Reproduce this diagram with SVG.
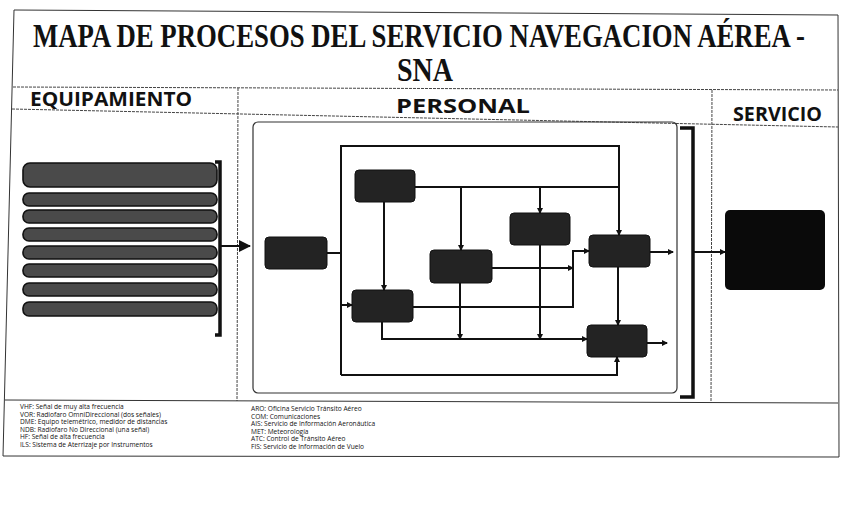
<svg xmlns="http://www.w3.org/2000/svg" width="843" height="506" viewBox="0 0 843 506">
<style>
.title{font-family:"Liberation Serif","Times New Roman",serif;font-weight:bold;font-size:24px;fill:#111}
.hdr{font-family:"Open Sans","Liberation Sans",sans-serif;font-weight:bold;font-size:20px;fill:#111}
.leg{font-family:"Open Sans","Liberation Sans",sans-serif;font-size:6.6px;fill:#111}
.rule{stroke:#333;stroke-width:1;fill:none}
.dash{stroke:#444;stroke-width:1;fill:none;stroke-dasharray:3 1}
.bar{fill:#4a4a4a;stroke:#111;stroke-width:1.6}
.node{fill:#232323;stroke:#111;stroke-width:1}
.c{stroke:#111;stroke-width:2;fill:none}
.br{stroke:#111;stroke-width:3.5;fill:none}
</style>
<defs>
<marker id="ah" markerWidth="6" markerHeight="6" refX="5" refY="3" orient="auto" markerUnits="userSpaceOnUse"><path d="M0,0 L6,3 L0,6 z" fill="#111"/></marker>
<marker id="big" markerWidth="12" markerHeight="12" refX="11" refY="6" orient="auto" markerUnits="userSpaceOnUse"><path d="M0,0 L12,6 L0,12 z" fill="#111"/></marker>
</defs>
<rect width="843" height="506" fill="#fff"/>
<polygon points="14,10 838,15 839,457 3,456" class="rule" stroke-width="1.3"/>
<text class="title" transform="translate(419,47) scale(1,1.38)" text-anchor="middle" textLength="772" lengthAdjust="spacingAndGlyphs">MAPA DE PROCESOS DEL SERVICIO NAVEGACION AÉREA -</text>
<text class="title" transform="translate(425,81) scale(1,1.38)" text-anchor="middle" textLength="56" lengthAdjust="spacingAndGlyphs">SNA</text>
<line class="dash" x1="13" y1="87" x2="838" y2="90"/>
<line class="dash" x1="12" y1="109" x2="838" y2="127"/>
<line class="dash" x1="238" y1="88" x2="237" y2="401"/>
<line class="dash" x1="712" y1="90" x2="711" y2="403"/>
<line class="rule" x1="5" y1="400" x2="838" y2="403"/>
<text class="hdr" x="30" y="106" textLength="162" lengthAdjust="spacingAndGlyphs">EQUIPAMIENTO</text>
<text class="hdr" x="396" y="113" textLength="134" lengthAdjust="spacingAndGlyphs">PERSONAL</text>
<text class="hdr" x="733" y="121" textLength="89" lengthAdjust="spacingAndGlyphs">SERVICIO</text>

<g id="equipamiento">
<rect class="bar" x="23" y="163" width="194" height="24" rx="7"/>
<rect class="bar" x="23" y="193" width="194" height="13" rx="6"/>
<rect class="bar" x="23" y="210" width="194" height="13" rx="6"/>
<rect class="bar" x="23" y="228" width="194" height="13" rx="6"/>
<rect class="bar" x="23" y="246" width="194" height="13" rx="6"/>
<rect class="bar" x="23" y="264" width="194" height="13" rx="6"/>
<rect class="bar" x="23" y="283" width="194" height="13" rx="6"/>
<rect class="bar" x="23" y="302" width="194" height="14" rx="6"/>
</g>

<rect id="personal-box" x="253" y="122" width="424" height="271" rx="5" fill="none" stroke="#333" stroke-width="1.2"/>

<g id="n-inicio"><rect class="node" x="265" y="237" width="62" height="32" rx="4"/></g>
<g id="n-a"><rect class="node" x="355" y="170" width="60" height="32" rx="4"/></g>
<g id="n-b"><rect class="node" x="510" y="213" width="60" height="32" rx="4"/></g>
<g id="n-c"><rect class="node" x="430" y="250" width="62" height="33" rx="4"/></g>
<g id="n-d"><rect class="node" x="589" y="235" width="61" height="32" rx="4"/></g>
<g id="n-e"><rect class="node" x="352" y="290" width="61" height="32" rx="4"/></g>
<g id="n-f"><rect class="node" x="587" y="325" width="60" height="32" rx="4"/></g>
<g id="servicio"><rect x="725" y="210" width="100" height="80" rx="5" fill="#0a0a0a"/></g>

<g id="connectors">
<path class="br" d="M215,162 H220 V335 H215"/>
<path class="c" d="M220,246 H250" stroke-width="2.5" marker-end="url(#big)"/>
<path class="c" d="M327,253 H341"/>
<path class="c" d="M341,145 V375"/>
<path class="c" d="M341,146 H619 V235" marker-end="url(#ah)"/>
<path class="c" d="M341,375 H617 V357" marker-end="url(#ah)"/>
<path class="c" d="M341,305 H352" marker-end="url(#ah)"/>
<path class="c" d="M415,187 H619"/>
<path class="c" d="M461,187 V250" marker-end="url(#ah)"/>
<path class="c" d="M540,187 V213" marker-end="url(#ah)"/>
<path class="c" d="M384,202 V290" marker-end="url(#ah)"/>
<path class="c" d="M492,268 H573" marker-end="url(#ah)"/>
<path class="c" d="M413,307 H573 V251 H589" marker-end="url(#ah)"/>
<path class="c" d="M382,322 V339 H587" marker-end="url(#ah)"/>
<path class="c" d="M460,283 V339" marker-end="url(#ah)"/>
<path class="c" d="M540,245 V339" marker-end="url(#ah)"/>
<path class="c" d="M618,267 V325" marker-end="url(#ah)"/>
<path class="c" d="M650,252 H673" marker-end="url(#ah)"/>
<path class="c" d="M647,343 H667" marker-end="url(#ah)"/>
<path class="br" d="M680,128 H693 V397 H680"/>
<path class="c" d="M693,252 H725" stroke-width="2.5" marker-end="url(#ah)"/>
</g>

<g id="legend">
<text class="leg" x="20" y="409">VHF: Señal de muy alta frecuencia</text>
<text class="leg" x="20" y="416.5">VOR: Radiofaro OmniDireccional (dos señales)</text>
<text class="leg" x="20" y="424">DME: Equipo telemétrico, medidor de distancias</text>
<text class="leg" x="20" y="431.5">NDB: Radiofaro No Direccional (una señal)</text>
<text class="leg" x="20" y="439">HF: Señal de alta frecuencia</text>
<text class="leg" x="20" y="446.5">ILS: Sistema de Aterrizaje por Instrumentos</text>
<text class="leg" x="251" y="411">ARO: Oficina Servicio Tránsito Aéreo</text>
<text class="leg" x="251" y="418.5">COM: Comunicaciones</text>
<text class="leg" x="251" y="426">AIS: Servicio de Información Aeronáutica</text>
<text class="leg" x="251" y="433.5">MET: Meteorología</text>
<text class="leg" x="251" y="441">ATC: Control de Tránsito Aéreo</text>
<text class="leg" x="251" y="448.5">FIS: Servicio de Información de Vuelo</text>
</g>
</svg>
